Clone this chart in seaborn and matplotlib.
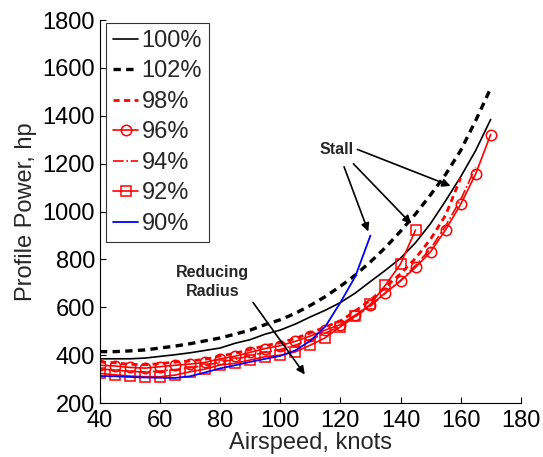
import numpy as np
import pandas as pd
import matplotlib
matplotlib.use("Agg")
import matplotlib.pyplot as plt
import seaborn as sns

# airspeed grid (knots), one point every 5 knots
speed = list(range(40, 175, 5))

p100 = [385, 385, 385, 388, 395, 402, 410, 420, 430, 450, 465, 488, 505, 530, 560,
        588, 620, 660, 708, 755, 805, 870, 950, 1045, 1145, 1255, 1385]
p102 = [415, 415, 418, 422, 430, 438, 448, 460, 472, 488, 505, 528, 548, 575, 608,
        645, 688, 735, 790, 850, 918, 990, 1070, 1155, 1255, 1380, 1515]
p98 = [372, 368, 362, 360, 365, 371, 376, 383, 397, 408, 424, 440, 452, 470, 493,
       518, 543, 585, 630, 685, 740, 805, 885, 985, 1140]
p96 = [358, 355, 349, 346, 352, 358, 363, 370, 385, 396, 412, 428, 440, 458, 480,
       505, 528, 568, 609, 661, 710, 767, 832, 924, 1030, 1157, 1322]
p94 = [342, 338, 332, 330, 334, 340, 348, 356, 372, 382, 398, 412, 424, 442, 465,
       492, 522, 562, 605, 660, 712, 775, 845, 940, 1050, 1185]
p92 = [324, 318, 313, 310, 310, 317, 331, 342, 359, 366, 380, 394, 400, 414, 442,
       473, 519, 563, 613, 693, 781, 923]
p90 = [313, 312, 309, 307, 306, 305, 312, 328, 345, 358, 372, 385, 397, 420, 460,
       520, 620, 730, 900]

labels = ["100%", "102%", "98%", "96%", "94%", "92%", "90%"]
series = [p100, p102, p98, p96, p94, p92, p90]
styles = [
    dict(color="black", linestyle="-", linewidth=1.2),
    dict(color="black", linestyle=(0, (2.2, 1.6)), linewidth=2.4),
    dict(color="red", linestyle=(0, (2.2, 1.6)), linewidth=2.0),
    dict(color="red", linestyle="-", linewidth=1.2, marker="o", markersize=7.5,
         markerfacecolor="none", markeredgecolor="red", markeredgewidth=1.1),
    dict(color="red", linestyle="-.", linewidth=1.2),
    dict(color="red", linestyle="-", linewidth=1.2, marker="s", markersize=6.5,
         markerfacecolor="none", markeredgecolor="red", markeredgewidth=1.1),
    dict(color="blue", linestyle="-", linewidth=1.3),
]

sns.set_style("ticks")
plt.rcParams["font.family"] = ["Liberation Sans", "DejaVu Sans"]

fig = plt.figure(figsize=(5.43, 4.57), dpi=100)
ax = fig.add_axes([0.184, 0.118, 0.775, 0.838])

for lab, vals, st in zip(labels, series, styles):
    df = pd.DataFrame({"speed": speed[:len(vals)], "power": vals})
    sns.lineplot(data=df, x="speed", y="power", ax=ax, label=lab, **st)

ax.set_xlim(40, 180)
ax.set_ylim(200, 1800)
ax.set_xticks(range(40, 181, 20))
ax.set_yticks(range(200, 1801, 200))
ax.tick_params(direction="in", length=4, width=0.8, labelsize=17, colors="black")
ax.tick_params(axis="x", pad=5)
ax.set_xlabel("Airspeed, knots", fontsize=17, labelpad=0)
ax.set_ylabel("Profile Power, hp", fontsize=17, labelpad=4)
for s in ["top", "right"]:
    ax.spines[s].set_visible(False)
for s in ["left", "bottom"]:
    ax.spines[s].set_color("black")
    ax.spines[s].set_linewidth(0.8)

leg = ax.legend(loc="upper left", bbox_to_anchor=(0.015, 0.993), fontsize=17,
                frameon=True, fancybox=False, handlelength=1.05, handletextpad=0.15,
                labelspacing=0.36, borderpad=0.3, borderaxespad=0)
leg.get_frame().set_edgecolor("black")
leg.get_frame().set_linewidth(0.8)

arrow = dict(arrowstyle="-|>", color="black", lw=1.2, mutation_scale=12)
ax.text(118.8, 1261, "Stall", fontsize=11.5, fontweight="bold", ha="center", va="center")
ax.annotate("", xy=(157.5, 1103), xytext=(124.8, 1264), arrowprops=arrow)
ax.annotate("", xy=(144.2, 941), xytext=(123.7, 1208), arrowprops=arrow)
ax.annotate("", xy=(129.6, 906), xytext=(120.9, 1198), arrowprops=arrow)

ax.text(77.4, 705, "Reducing\nRadius", fontsize=11.5, fontweight="bold",
        ha="center", va="center", linespacing=1.3)
ax.annotate("", xy=(108.7, 310), xytext=(90.4, 630), arrowprops=arrow)

fig.savefig("out.png", dpi=100)
